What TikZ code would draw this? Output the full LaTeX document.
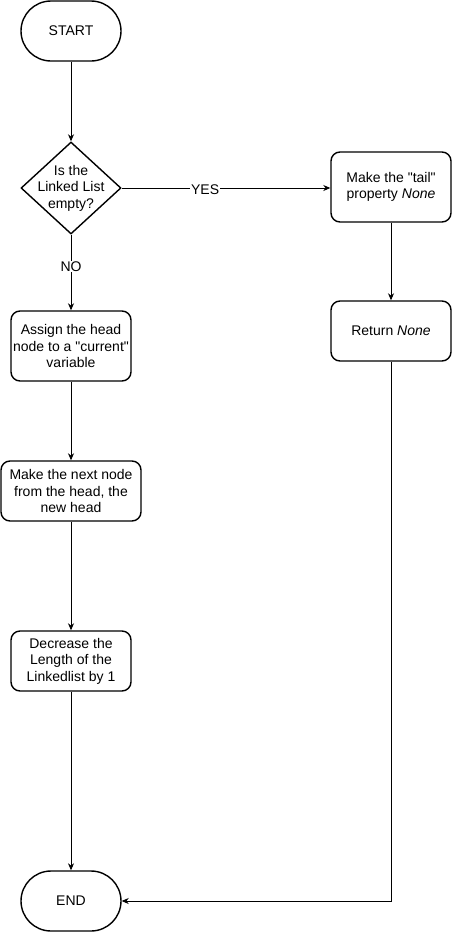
\documentclass[tikz,border=0pt]{standalone}
\usepackage{fontspec}
\setmainfont{Liberation Sans}[Ligatures = TeXOff]
\usetikzlibrary{arrows.meta}
\usetikzlibrary{shapes.geometric}
\tikzset{terminal/.style = {draw, line width = 1.4pt, rounded corners = 30pt, minimum width = 100pt, minimum height = 60pt, inner sep = 0, font = \fontsize{14}{17}\selectfont}}
\tikzset{process/.style = {draw, line width = 1.4pt, rounded corners = 9pt, minimum width = 120pt, align = center, inner sep = 1pt, font = \fontsize{14}{16.5}\selectfont}}
\tikzset{decision/.style = {draw, diamond, line width = 1.4pt, minimum width = 100pt, minimum height = 92pt, inner sep = 0}}
\tikzset{flow/.style = {draw, line width = 0.8pt, -{Stealth[length = 7pt, width = 6pt]}}}
\tikzset{edgelabel/.style = {fill = white, inner sep = 1pt, font = \fontsize{14}{17}\selectfont}}

\begin{document}
\begin{tikzpicture}[x = 1pt, y = -1pt]
    \useasboundingbox (0, 0) rectangle (452, 932);

    % left column
    \node [terminal] (start) at (71, 31) {START};
    \node [decision, label = {[align = center, font = \fontsize{14}{16.5}\selectfont]center:Is the\\Linked List\\empty?}] (empty) at (71, 188) {};
    \node [process, minimum height = 70pt] (assign) at (71, 346) {Assign the head\\node to a "current"\\variable};
    \node [process, minimum height = 60pt, minimum width = 140pt] (next) at (71, 491) {Make the next node\\from the head, the\\new head};
    \node [process, minimum height = 60pt] (length) at (71, 661) {Decrease the\\Length of the\\Linkedlist by 1};
    \node [terminal] (finish) at (71, 901) {END};

    % right column
    \node [process, minimum height = 70pt] (tail) at (391, 187) {Make the "tail"\\property \textit{None}};
    \node [process, minimum height = 60pt] (ret) at (391, 331) {Return \textit{None}};

    \draw [flow] (start) -- (empty);
    \draw [flow] (empty.east) -- node [edgelabel, pos = 0.4, yshift = -2pt] {YES} (tail.west |- empty.east);
    \draw [flow] (empty) -- node [edgelabel, pos = 0.42] {NO} (assign);
    \draw [flow] (assign) -- (next);
    \draw [flow] (next) -- (length);
    \draw [flow] (length) -- (finish);
    \draw [flow] (tail) -- (ret);
    \draw [flow] (ret.south) |- (finish.east);

\end{tikzpicture}
\end{document}
